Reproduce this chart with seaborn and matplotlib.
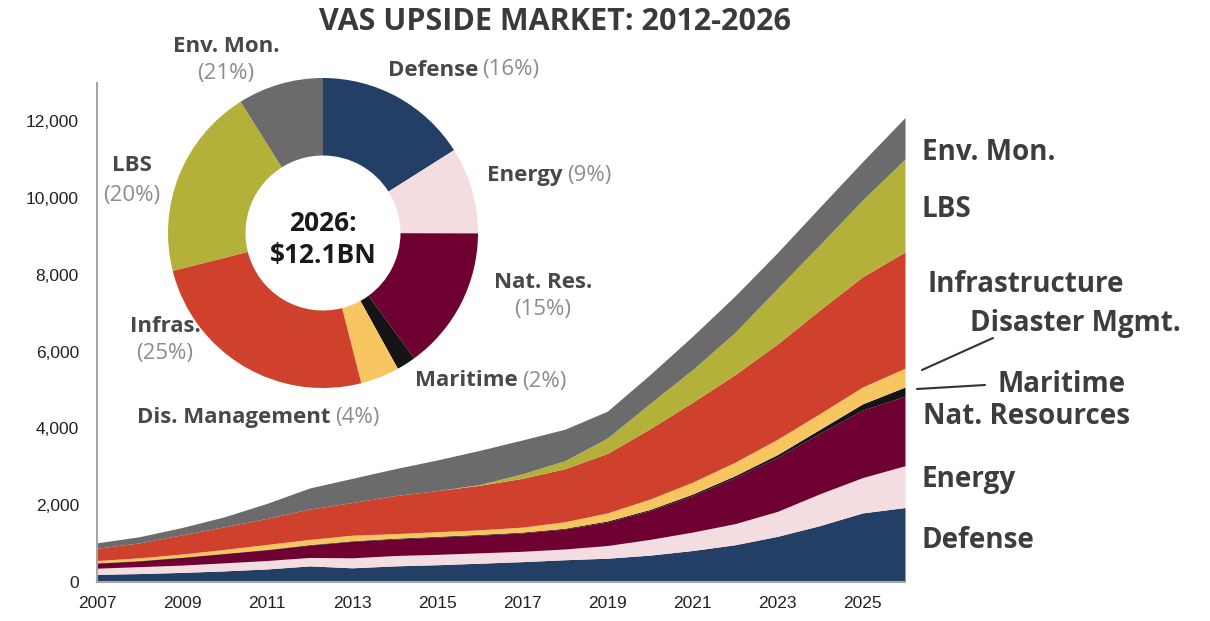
import matplotlib
matplotlib.use("Agg")
import matplotlib.pyplot as plt
from matplotlib.lines import Line2D
import seaborn as sns

# Data ($M)
years = list(range(2007, 2027))
defense = [200, 220, 250, 290, 340, 420, 370, 420, 450, 490, 530, 580, 620, 700, 820, 970, 1190, 1470, 1800, 1940]
energy = [160, 180, 190, 210, 220, 220, 260, 270, 270, 270, 270, 280, 330, 410, 480, 550, 650, 830, 920, 1090]
nat_res = [130, 150, 200, 240, 280, 320, 430, 430, 450, 460, 480, 520, 610, 750, 950, 1200, 1410, 1580, 1760, 1810]
maritime = [10, 10, 10, 10, 10, 15, 15, 20, 20, 20, 20, 20, 30, 30, 40, 50, 70, 100, 160, 240]
dis_mgmt = [60, 70, 80, 100, 130, 135, 145, 120, 120, 120, 130, 170, 210, 270, 310, 350, 400, 410, 440, 490]
infra = [320, 390, 500, 590, 680, 790, 850, 990, 1070, 1160, 1270, 1380, 1550, 1830, 2080, 2280, 2480, 2700, 2870, 3030]
lbs = [0, 0, 0, 0, 0, 0, 0, 0, 0, 20, 120, 210, 400, 660, 850, 1100, 1450, 1700, 2000, 2420]
env_mon = [140, 160, 190, 260, 390, 550, 630, 700, 800, 890, 880, 820, 700, 750, 870, 950, 930, 980, 1000, 1080]

layers = [defense, energy, nat_res, maritime, dis_mgmt, infra, lbs, env_mon]
layer_colors = ["#243f66", "#f3dde1", "#6e0032", "#141414", "#f8c660", "#cf402d", "#b3b13a", "#6b6b6b"]

right_labels = ["Env. Mon.", "LBS", "Infrastructure", "Disaster Mgmt.", "Maritime",
                "Nat. Resources", "Energy", "Defense"]
donut_names = ["Defense", "Energy", "Nat. Res.", "Maritime", "Dis. Management", "Infras.", "LBS", "Env. Mon."]
donut_pcts = ["(16%)", "(9%)", "(15%)", "(2%)", "(4%)", "(25%)", "(20%)", "(21%)"]

W, H = 1210, 621


def px(x, y):
    # pixel position (from top-left) -> figure fraction
    return x / W, 1 - y / H


sns.set_theme(style="white")
plt.rcParams['font.family'] = ['Open Sans', 'DejaVu Sans']

fig = plt.figure(figsize=(W / 100, H / 100), dpi=100)
fig.patch.set_facecolor("white")

# Stacked area chart
ax = fig.add_axes([97 / W, (H - 582) / H, (905 - 97) / W, (582 - 83) / H])
ax.stackplot(years, *layers, colors=layer_colors, linewidth=0)
ax.set_xlim(2007, 2026)
ax.set_ylim(0, 13000)
ax.set_yticks(range(0, 12001, 2000))
ax.set_yticklabels([f"{v:,}" for v in range(0, 12001, 2000)], family="Liberation Sans")
ax.set_xticks(years[::2])
ax.set_xticklabels([str(y) for y in years[::2]], family="Liberation Sans")
ax.set_xticks(years[1::2], minor=True)
ax.tick_params(axis="both", which="both", direction="out", length=5, width=1.2,
               color="#a0a0a0", labelsize=12.5, labelcolor="#222222")
ax.tick_params(axis="y", pad=8)
ax.tick_params(axis="x", pad=5)
sns.despine(ax=ax)
for side in ["left", "bottom"]:
    ax.spines[side].set_color("#a5a5a5")
    ax.spines[side].set_linewidth(1.5)

# Title
fig.text(*px(555, 22), "VAS UPSIDE MARKET: 2012-2026", ha="center", va="center",
         fontsize=22, fontweight="bold", color="#3a3a3a")

# Labels at the right of the stack
right_pos = [(922, 153), (922, 210), (928, 285), (970, 323), (997, 385),
             (923, 417), (922, 480), (922, 541)]
for name, (x, y) in zip(right_labels, right_pos):
    fig.text(*px(x, y), name, ha="left", va="center", fontsize=20,
             fontweight="bold", color="#3d3d3d")

for (x1, y1), (x2, y2) in [((993, 338), (922, 370)), ((985, 385), (917, 389))]:
    fig.add_artist(Line2D([x1 / W, x2 / W], [1 - y1 / H, 1 - y2 / H],
                          transform=fig.transFigure, color="#333333", lw=1.5))

# Donut of 2026 split
cx, cy, r = 323, 233, 155
ax_pie = fig.add_axes([(cx - r) / W, (H - cy - r) / H, 2 * r / W, 2 * r / H])
sizes_2026 = [s[-1] for s in layers]
ax_pie.pie(sizes_2026, colors=layer_colors, startangle=90, counterclock=False,
           radius=1, wedgeprops=dict(width=0.5, edgecolor="none"))
ax_pie.set_xlim(-1, 1)
ax_pie.set_ylim(-1, 1)
ax_pie.text(0, -0.04, "2026:\n\\$12.1BN", ha="center", va="center", fontsize=19,
            fontweight="bold", color="#1a1a1a", linespacing=1.25)

label_size = 16
name_color = "#484848"
pct_color = "#8c8c8c"

# one-line labels: name then percent
one_line = {"Defense": (388, 70), "Energy": (487, 176), "Maritime": (415, 381),
            "Dis. Management": (137, 418)}
# two-line labels: name centred above percent
two_line = {"Env. Mon.": (226, 47, 73), "LBS": (132, 165, 195),
            "Infras.": (165, 327, 353), "Nat. Res.": (543, 283, 310)}

for name, pct in zip(donut_names, donut_pcts):
    if name in one_line:
        x, y = one_line[name]
        t = fig.text(*px(x, y), name, ha="left", va="center", fontsize=label_size,
                     fontweight="bold", color=name_color)
        ax_pie.annotate(pct, xy=(1, 0), xycoords=t, xytext=(3, 0),
                        textcoords="offset points", ha="left", va="bottom",
                        fontsize=label_size, color=pct_color, annotation_clip=False)
    else:
        x, y1, y2 = two_line[name]
        fig.text(*px(x, y1), name, ha="center", va="center", fontsize=label_size,
                 fontweight="bold", color=name_color)
        fig.text(*px(x, y2), pct, ha="center", va="center", fontsize=label_size,
                 color=pct_color)

fig.savefig("out.png", dpi=100, facecolor="white")
